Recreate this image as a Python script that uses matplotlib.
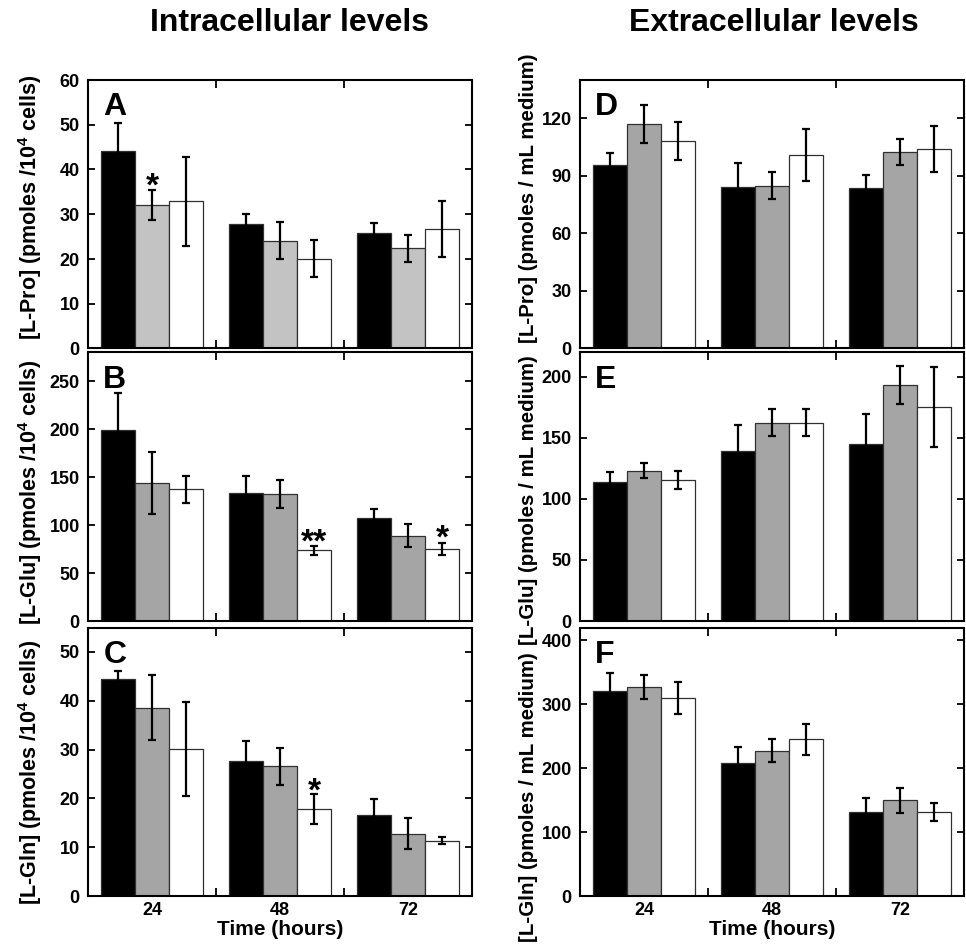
import matplotlib
matplotlib.use("Agg")
import matplotlib.pyplot as plt
import numpy as np

plt.rcParams['font.family'] = ['Liberation Sans', 'DejaVu Sans']
plt.rcParams['font.weight'] = 'bold'
plt.rcParams['mathtext.fontset'] = 'custom'
plt.rcParams['mathtext.rm'] = 'Liberation Sans:bold'
plt.rcParams['mathtext.bf'] = 'Liberation Sans:bold'
plt.rcParams['mathtext.default'] = 'bf'

times = ["24", "48", "72"]

# Intracellular
A_vals = [[44.2, 27.9, 25.7], [32.1, 24.1, 22.4], [32.9, 20.1, 26.7]]
A_errs = [[6.3, 2.1, 2.3], [3.3, 4.2, 3.0], [10.0, 4.2, 6.2]]
B_vals = [[199.5, 134.0, 106.9], [143.8, 132.7, 89.1], [137.2, 73.8, 74.9]]
B_errs = [[38.0, 17.5, 9.7], [32.0, 14.7, 12.2], [14.0, 4.5, 6.1]]
C_vals = [[44.4, 27.7, 16.5], [38.6, 26.6, 12.8], [30.1, 17.8, 11.3]]
C_errs = [[1.7, 4.0, 3.3], [6.6, 3.8, 3.1], [9.7, 3.1, 0.75]]
# Extracellular
D_vals = [[95.9, 84.2, 83.7], [117.0, 84.8, 102.4], [108.1, 100.8, 104.0]]
D_errs = [[5.8, 12.4, 7.0], [9.8, 7.1, 6.6], [9.8, 13.4, 11.8]]
E_vals = [[113.8, 139.2, 145.2], [123.0, 162.6, 193.2], [115.4, 162.6, 175.4]]
E_errs = [[8.2, 21.2, 24.0], [6.2, 11.0, 15.4], [7.6, 11.0, 32.5]]
F_vals = [[320.3, 207.3, 131.8], [326.6, 227.0, 150.0], [309.9, 245.3, 131.8]]
F_errs = [[28.0, 25.5, 20.8], [18.8, 18.0, 19.6], [24.7, 24.2, 14.3]]

# significance marks: (series index, group index, text, y position)
A_marks = [(1, 0, "*", 37.6)]
B_marks = [(2, 1, "**", 88.0), (2, 2, "*", 93.0)]
C_marks = [(2, 1, "*", 22.8)]

panels = [
    dict(letter="A", vals=A_vals, errs=A_errs, ylim=(0, 60), yticks=[0, 10, 20, 30, 40, 50, 60],
         ylabel="[L-Pro] (pmoles /10$^{4}$ cells)", marks=A_marks, grey="#c3c3c3", label_y=0.527),
    dict(letter="B", vals=B_vals, errs=B_errs, ylim=(0, 280), yticks=[0, 50, 100, 150, 200, 250],
         ylabel="[L-Glu] (pmoles /10$^{4}$ cells)", marks=B_marks, grey="#a5a5a5", label_y=0.48),
    dict(letter="C", vals=C_vals, errs=C_errs, ylim=(0, 55), yticks=[0, 10, 20, 30, 40, 50],
         ylabel="[L-Gln] (pmoles /10$^{4}$ cells)", marks=C_marks, grey="#a5a5a5", label_y=0.46),
    dict(letter="D", vals=D_vals, errs=D_errs, ylim=(0, 140), yticks=[0, 30, 60, 90, 120],
         ylabel="[L-Pro] (pmoles / mL medium)", marks=[], grey="#a5a5a5", label_y=0.56),
    dict(letter="E", vals=E_vals, errs=E_errs, ylim=(0, 220), yticks=[0, 50, 100, 150, 200],
         ylabel="[L-Glu] (pmoles / mL medium)", marks=[], grey="#a5a5a5", label_y=0.45),
    dict(letter="F", vals=F_vals, errs=F_errs, ylim=(0, 420), yticks=[0, 100, 200, 300, 400],
         ylabel="[L-Gln] (pmoles / mL medium)", marks=[], grey="#a5a5a5", label_y=0.37),
]

W, H = 966, 947
fig = plt.figure(figsize=(W / 100, H / 100), dpi=100)

col_x = [88, 580]
col_w = 384
rows = [(80, 348.5), (352.5, 621), (627.5, 896)]
label_x = [-0.115, -0.11]
label_fs = [15.5, 14.8]

bw = 0.268
x = np.arange(len(times))
for i, p in enumerate(panels):
    col = i // 3
    row = i % 3
    top, bot = rows[row]
    ax = fig.add_axes([col_x[col] / W, 1 - bot / H, col_w / W, (bot - top) / H])
    colors = ["black", p["grey"], "white"]
    for s in range(3):
        xs = x + (s - 1) * bw
        ax.bar(xs, p["vals"][s], width=bw, color=colors[s], edgecolor="#303030", linewidth=0.9, zorder=2)
        ax.errorbar(xs, p["vals"][s], yerr=p["errs"][s], fmt="none", ecolor="black",
                    elinewidth=1.6, capsize=3.0, capthick=1.6, zorder=3)
    for (s, g, txt, yv) in p["marks"]:
        ax.annotate(txt, xy=(g + (s - 1) * bw, yv), xytext=(0, -5), textcoords="offset points",
                    ha="center", va="center", fontsize=24, fontweight="bold", zorder=4)
    ax.set_xlim(-0.5, 2.5)
    ax.set_ylim(*p["ylim"])
    ax.set_yticks(p["yticks"])
    ax.set_xticks(x)
    ax.set_xticks([0.5, 1.5], minor=True)
    if row == 2:
        ax.set_xticklabels(times, fontsize=13, fontweight="bold")
        ax.set_xlabel("Time (hours)", fontsize=15, fontweight="bold", labelpad=1)
    else:
        ax.set_xticklabels([])
    ax.tick_params(axis="x", which="major", length=0, pad=4)
    ax.tick_params(axis="x", which="minor", direction="in", top=True, bottom=True, length=6, width=1.3)
    ax.tick_params(axis="y", which="major", direction="in", left=True, right=True, length=5,
                   width=1.3, labelsize=13, pad=6)
    for lab in ax.get_yticklabels():
        lab.set_fontweight("bold")
    for sp in ax.spines.values():
        sp.set_linewidth(1.5)
    ax.set_ylabel(p["ylabel"], fontsize=label_fs[col], fontweight="bold")
    ax.yaxis.set_label_coords(label_x[col], p["label_y"])
    ax.text(0.04, 0.955, p["letter"], transform=ax.transAxes, ha="left", va="top",
            fontsize=23, fontweight="bold")

fig.text(289 / W, 1 - 23 / H, "Intracellular levels", ha="center", va="center",
         fontsize=23, fontweight="bold")
fig.text(774 / W, 1 - 23 / H, "Extracellular levels", ha="center", va="center",
         fontsize=23, fontweight="bold")

fig.savefig("out.png", dpi=100)
